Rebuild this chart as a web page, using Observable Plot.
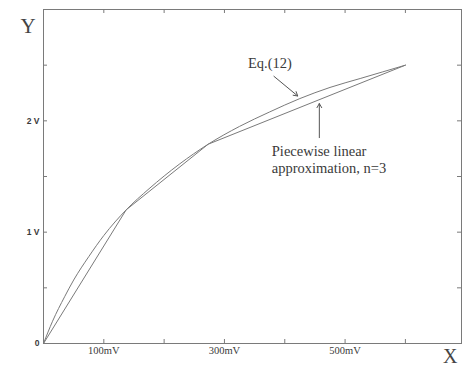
<!DOCTYPE html>
<html>
<head>
<meta charset="utf-8">
<script src="https://cdn.jsdelivr.net/npm/d3@7"></script>
<script src="https://cdn.jsdelivr.net/npm/@observablehq/plot@0.6"></script>
<style>
  html, body { margin: 0; padding: 0; background: #fff; }
  #chart svg { display: block; }
</style>
</head>
<body>
<div id="chart"></div>
<script>
// Tick positions and labels
const xTicks = [100, 200, 300, 400, 500, 600];
const xLabels = [100, 300, 500];
const yTicks = [0.5, 1, 1.5, 2, 2.5];
const yLabels = [0, 1, 2];

// Eq.(12) curve (X in mV, Y in V)
const eqX = [0, 15, 35, 50, 75, 100, 137, 175, 225, 273, 325, 375, 425, 475, 525, 600];
const eqY = [0, 0.2, 0.42, 0.57, 0.78, 0.97, 1.2, 1.39, 1.61, 1.79, 1.95, 2.08, 2.2, 2.3, 2.38, 2.5];

// Piecewise linear approximation, n=3
const pwX = [0, 137, 273, 600];
const pwY = [0, 1.2, 1.79, 2.5];

// Annotations
const annText = ["Eq.(12)", "Piecewise linear\napproximation, n=3"];
const annTextX = [339, 378.5];
const annTextY = [2.52, 1.654];
const arrowX1 = [382, 457.3];
const arrowY1 = [2.40, 1.849];
const arrowX2 = [421.5, 457.3];
const arrowY2 = [2.223, 2.155];

const eq = eqX.map((x, i) => ({x, y: eqY[i]}));
const pw = pwX.map((x, i) => ({x, y: pwY[i]}));
const notes = annText.map((t, i) => ({t, x: annTextX[i], y: annTextY[i]}));
const arrows = arrowX1.map((x1, i) => ({x1, y1: arrowY1[i], x2: arrowX2[i], y2: arrowY2[i]}));

const gray = "#7a7a7a";
const ink = "#3a3a3a";
const W = 462, H = 371, mL = 43, mR = 1, mT = 9, mB = 28;
const fw = W - mL - mR, fh = H - mT - mB, tk = 4;

const chart = Plot.plot({
  width: W,
  height: H,
  marginLeft: mL,
  marginRight: mR,
  marginTop: mT,
  marginBottom: mB,
  style: {fontFamily: "'Liberation Serif', serif", background: "#fff", color: ink},
  x: {domain: [0, 693]},
  y: {domain: [0, 3]},
  marks: [
    Plot.frame({stroke: gray, strokeWidth: 1}),
    // inward ticks on all four sides
    Plot.tickX(xTicks, {x: d => d, insetTop: fh - tk, stroke: gray}),
    Plot.tickX(xTicks, {x: d => d, insetBottom: fh - tk, stroke: gray}),
    Plot.tickY(yTicks, {y: d => d, insetRight: fw - tk, stroke: gray}),
    Plot.tickY(yTicks, {y: d => d, insetLeft: fw - tk, stroke: gray}),
    // tick labels
    Plot.axisX(xLabels, {anchor: "bottom", tickSize: 0, tickPadding: 3, tickFormat: d => d + "mV",
      fontSize: 10.5, fill: ink, label: null}),
    Plot.axisY(yLabels, {anchor: "left", tickSize: 0, tickPadding: 4, tickFormat: d => d === 0 ? "0" : d + " V",
      fontSize: 8.5, fontWeight: "bold", fontFamily: "'Liberation Sans', sans-serif", fill: ink, label: null}),
    // curves
    Plot.line(pw, {x: "x", y: "y", stroke: gray, strokeWidth: 1}),
    Plot.line(eq, {x: "x", y: "y", stroke: gray, strokeWidth: 1, curve: "monotone-x"}),
    // annotations
    Plot.arrow(arrows, {x1: "x1", y1: "y1", x2: "x2", y2: "y2", stroke: "#555", strokeWidth: 1,
      headLength: 7, inset: 0}),
    Plot.text(notes, {x: "x", y: "y", text: "t", textAnchor: "start", fontSize: 14.5,
      lineHeight: 1.15, fill: ink}),
    // axis names
    Plot.text(["Y"], {frameAnchor: "top-left", dx: -23, dy: 9, fontSize: 21, fill: "#444"}),
    Plot.text(["X"], {frameAnchor: "bottom-right", dx: -4, dy: 19, fontSize: 20, fill: "#444"})
  ]
});

document.getElementById("chart").appendChild(chart);
</script>
</body>
</html>
